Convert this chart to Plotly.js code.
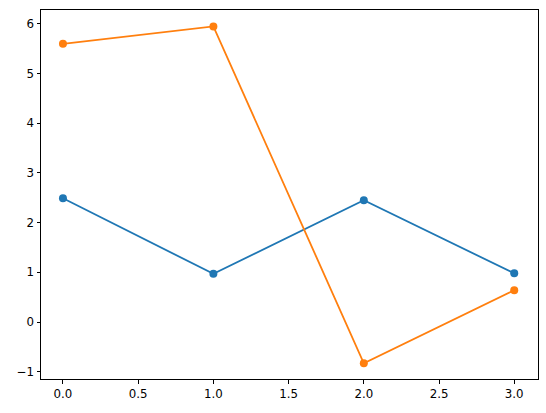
<!DOCTYPE html>
<html>
<head>
<meta charset="utf-8">
<script src="https://cdn.plot.ly/plotly-3.0.1.min.js"></script>
<style>html,body{margin:0;padding:0;background:#fff;}#chart{width:546px;height:413px;}</style>
</head>
<body>
<div id="chart"></div>
<script>
const xValues = [0, 1, 2, 3];
const seriesA = [2.49, 0.97, 2.45, 0.98];
const seriesB = [5.60, 5.95, -0.83, 0.64];
const xTicks = [0, 0.5, 1, 1.5, 2, 2.5, 3];
const xTickText = ['0.0', '0.5', '1.0', '1.5', '2.0', '2.5', '3.0'];
const yTicks = [-1, 0, 1, 2, 3, 4, 5, 6];
const yTickText = ['\u22121', '0', '1', '2', '3', '4', '5', '6'];

const traces = [
  {x: xValues, y: seriesA, mode: 'lines+markers', line: {color: '#1f77b4', width: 1.8}, marker: {color: '#1f77b4', size: 8}},
  {x: xValues, y: seriesB, mode: 'lines+markers', line: {color: '#ff7f0e', width: 1.8}, marker: {color: '#ff7f0e', size: 8}}
];
const axisCommon = {
  showgrid: false, zeroline: false, showline: true, mirror: true,
  linecolor: '#000', linewidth: 1, ticks: 'outside', ticklen: 3.5, tickwidth: 1, tickcolor: '#000',
  tickmode: 'array', tickfont: {family: 'DejaVu Sans', size: 11.8, color: '#000'}
};
const layout = {
  width: 546, height: 413,
  margin: {l: 41.3, r: 8, t: 10.3, b: 34},
  paper_bgcolor: '#fff', plot_bgcolor: '#fff',
  showlegend: false,
  xaxis: Object.assign({}, axisCommon, {range: [-0.146, 3.158], tickvals: xTicks, ticktext: xTickText}),
  yaxis: Object.assign({}, axisCommon, {range: [-1.147, 6.28], tickvals: yTicks, ticktext: yTickText})
};
Plotly.newPlot('chart', traces, layout, {staticPlot: true, displayModeBar: false});
</script>
</body>
</html>
